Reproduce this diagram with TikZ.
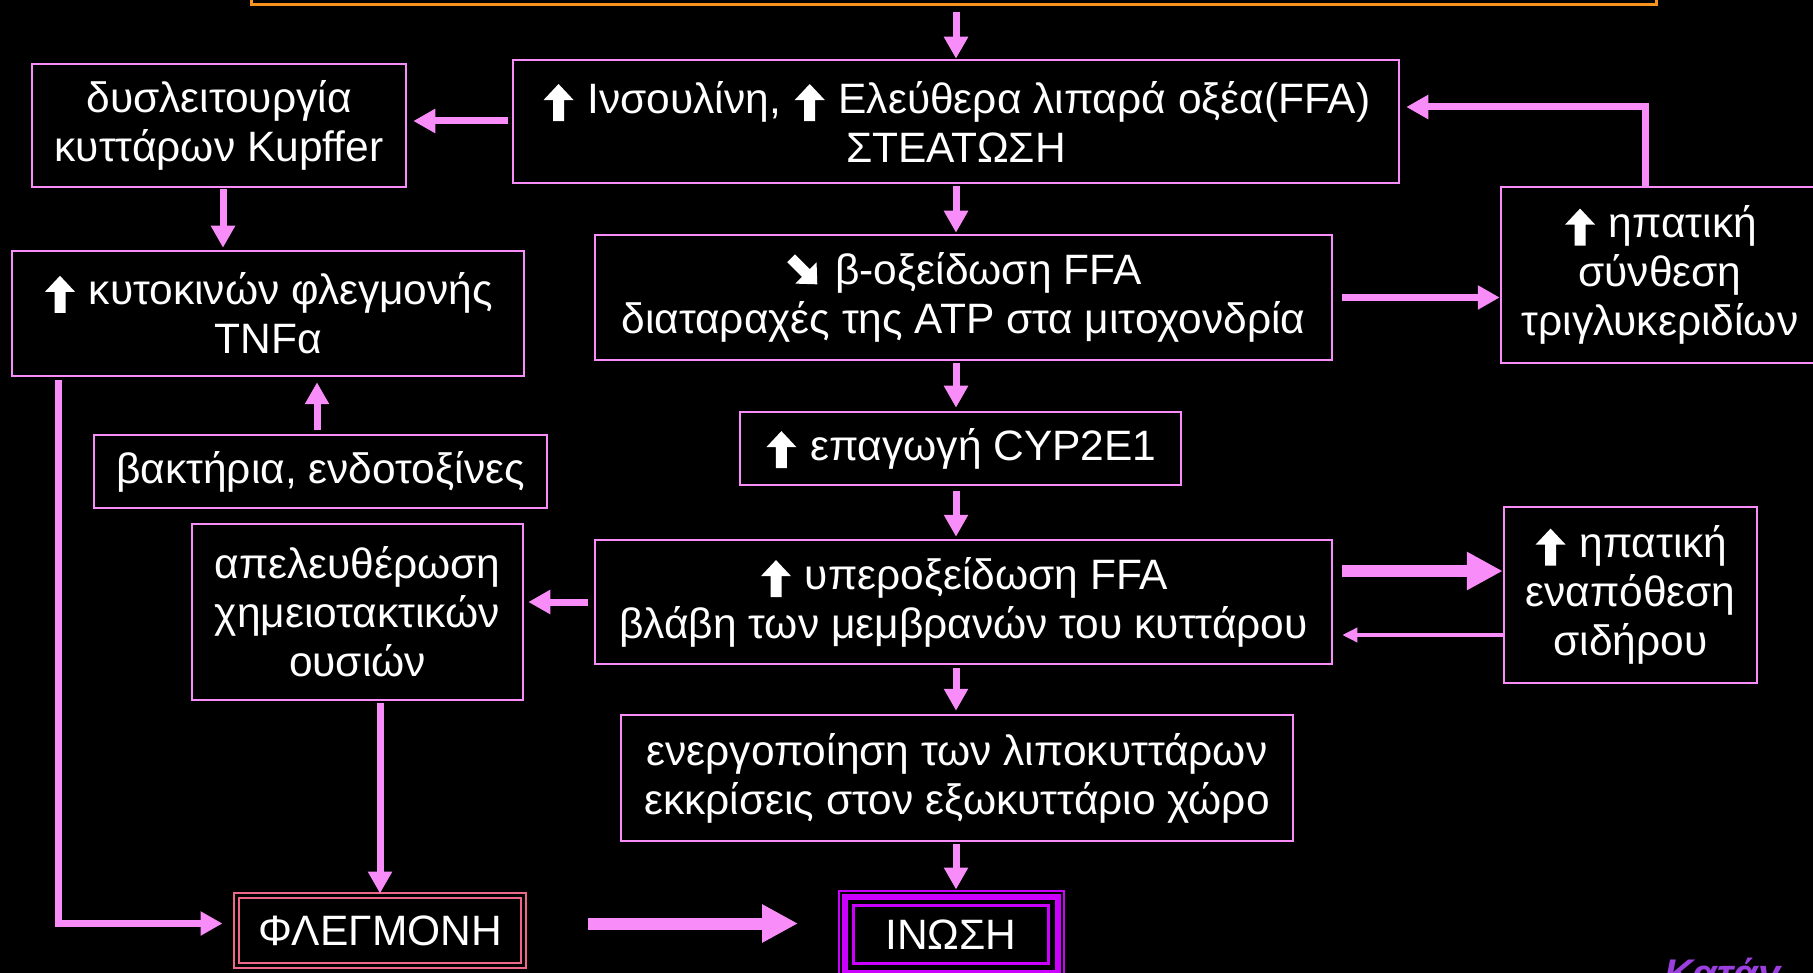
\documentclass[tikz,border=0pt]{standalone}
\usepackage{fontspec}
\setmainfont{Liberation Sans}
\usetikzlibrary{arrows.meta,calc}
\definecolor{pinkc}{HTML}{F88CF8}
\definecolor{orangec}{HTML}{F7941D}
\definecolor{flegc}{HTML}{EE6688}
\definecolor{inoc}{HTML}{CC00FF}
\definecolor{purplec}{HTML}{9B3FE0}
\newcommand{\uparw}{\tikz[baseline=0pt,x=1pt,y=1pt]{\path (-17,0) -- (17,0); \fill[white] (-5.5,-8) -- (5.5,-8) -- (5.5,13) -- (15,13) -- (0,29) -- (-15,13) -- (-5.5,13) -- cycle;}}
\newcommand{\dnrarw}{\tikz[baseline=-13pt,x=1pt,y=1pt]{\path (-19,0) -- (19,0); \fill[white,rotate=-135] (-5.5,-19) -- (5.5,-19) -- (5.5,2) -- (15,2) -- (0,18) -- (-15,2) -- (-5.5,2) -- cycle;}}
\tikzset{
  boxn/.style={draw=pinkc, line width=2.5pt, fill=black, text=white, align=center,
    font=\fontsize{42.5pt}{49pt}\selectfont, inner sep=0pt},
  conn/.style={draw=pinkc, line width=7pt, -{Triangle[length=22pt,width=23pt]}},
  connthick/.style={draw=pinkc, line width=12pt, -{Triangle[length=36pt,width=36pt]}},
  connthin/.style={draw=pinkc, line width=3.5pt, -{Triangle[length=15pt,width=14pt]}},
}
\begin{document}
\begin{tikzpicture}[x=1pt,y=-1pt]
\useasboundingbox (0,0) rectangle (1813,973);
\fill[black] (0,0) rectangle (1813,973);
\clip (0,0) rectangle (1813,973);

% boxes
\node[draw=orangec, line width=3pt, minimum width=1405pt, minimum height=40pt, inner sep=0pt] (top) at (953.5,-15) {};
\node[boxn, minimum width=886pt, minimum height=123pt] (main) at (956,121.5)
  {\uparw{} Ινσουλίνη, \uparw{} Ελεύθερα λιπαρά οξέα(FFA)\\ΣΤΕΑΤΩΣΗ};
\node[boxn, minimum width=374pt, minimum height=123pt] (kupf) at (219,125.5)
  {δυσλειτουργία\\κυττάρων Kupffer};
\node[boxn, minimum width=512pt, minimum height=125pt] (cyto) at (268,313.5)
  {\uparw{} κυτοκινών φλεγμονής\\TNFα};
\node[boxn, minimum width=737pt, minimum height=125pt] (beta) at (963.5,297.5)
  {\dnrarw{} β-οξείδωση FFA\\διαταραχές της ATP στα μιτοχονδρία};
\node[boxn, minimum width=318pt, minimum height=176pt] (trig) at (1660,275)
  {\uparw{} ηπατική\\σύνθεση\\τριγλυκεριδίων};
\node[boxn, minimum width=441pt, minimum height=73pt] (cyp) at (960.5,448.5)
  {\uparw{} επαγωγή CYP2E1};
\node[boxn, minimum width=453pt, minimum height=73pt] (bact) at (320.5,471.5)
  {βακτήρια, ενδοτοξίνες};
\node[boxn, minimum width=737pt, minimum height=124pt] (hyper) at (963.5,602)
  {\uparw{} υπεροξείδωση FFA\\βλάβη των μεμβρανών του κυττάρου};
\node[boxn, minimum width=253pt, minimum height=176pt] (iron) at (1630.5,595)
  {\uparw{} ηπατική\\εναπόθεση\\σιδήρου};
\node[boxn, minimum width=331pt, minimum height=176pt] (chemo) at (357.5,612)
  {απελευθέρωση\\χημειοτακτικών\\ουσιών};
\node[boxn, minimum width=672pt, minimum height=126pt] (activ) at (957,778)
  {ενεργοποίηση των λιποκυττάρων\\εκκρίσεις στον εξωκυττάριο χώρο};
\node[boxn, draw=flegc, line width=2pt, double=black, double distance=3pt,
  minimum width=287pt, minimum height=70pt] (flegm) at (380,930.5) {ΦΛΕΓΜΟΝΗ};
\node[boxn, draw=inoc, line width=3pt, minimum width=195pt, minimum height=58pt] (inosi) at (951,934.5) {ΙΝΩΣΗ};
\draw[inoc, line width=6pt] ([shift={(-7.5pt,7.5pt)}]inosi.north west) rectangle ([shift={(7.5pt,-7.5pt)}]inosi.south east);
\draw[inoc, line width=2pt] ([shift={(-13.5pt,13.5pt)}]inosi.north west) rectangle ([shift={(13.5pt,-13.5pt)}]inosi.south east);

\node[anchor=north west, text=purplec, inner sep=0pt,
  font=\fontsize{40pt}{40pt}\selectfont\bfseries\itshape] (sig) at (1664,958) {Κατάγ};

% connectors
\draw[conn, shorten <=6pt] (top.south -| main.north) -- (main.north);
\draw[conn, shorten <=4pt, shorten >=6pt] ([yshift=0.5pt]main.west) -- ([yshift=0.5pt]main.west -| kupf.east);
\draw[conn, shorten <=1pt, shorten >=2pt] ([xshift=4pt]kupf.south) -- ([xshift=4pt]kupf.south |- cyto.north);
\draw[conn, shorten <=4pt, shorten >=5pt] ([xshift=-3.5pt]bact.north) -- ([xshift=-3.5pt]bact.north |- cyto.south);
\draw[conn, shorten <=3pt, shorten >=13pt] ([xshift=48pt]cyto.south west) |- ([yshift=7pt]flegm.west);
\draw[conn, shorten <=2pt, shorten >=1pt] (chemo.south -| flegm.north) -- (flegm.north);
\draw[connthick, shorten <=63pt, shorten >=54pt] ([yshift=7pt]flegm.east) -- ([yshift=7pt]flegm.east -| inosi.west);
\draw[conn, shorten <=2pt, shorten >=1pt] (main.south) -- (main.south |- beta.north);
\draw[conn, shorten <=9pt] (beta.east) -- (beta.east -| trig.west);
\draw[conn, shorten >=6pt] ([xshift=-15pt]trig.north) |- ([yshift=14.5pt]main.east);
\draw[conn, shorten <=2pt, shorten >=3pt] (beta.south -| main.south) -- (cyp.north -| main.south);
\draw[conn, shorten <=5pt, shorten >=2pt] (cyp.south -| main.south) -- (hyper.north -| main.south);
\draw[conn, shorten <=3pt, shorten >=3pt] (hyper.south -| main.south) -- (activ.north -| main.south);
\draw[conn, shorten <=2pt, shorten >=1pt] (activ.south -| main.south) -- ([yshift=13.5pt]inosi.north -| main.south);
\draw[connthick, shorten <=9pt] ([yshift=31pt]hyper.east) -- ([yshift=31pt]hyper.east -| iron.west);
\draw[connthin, shorten >=9pt] ([yshift=-40pt]iron.west) -- ([yshift=-40pt]iron.west -| hyper.east);
\draw[conn, shorten <=6pt, shorten >=4pt] (hyper.west) -- (hyper.west -| chemo.east);
\end{tikzpicture}
\end{document}
